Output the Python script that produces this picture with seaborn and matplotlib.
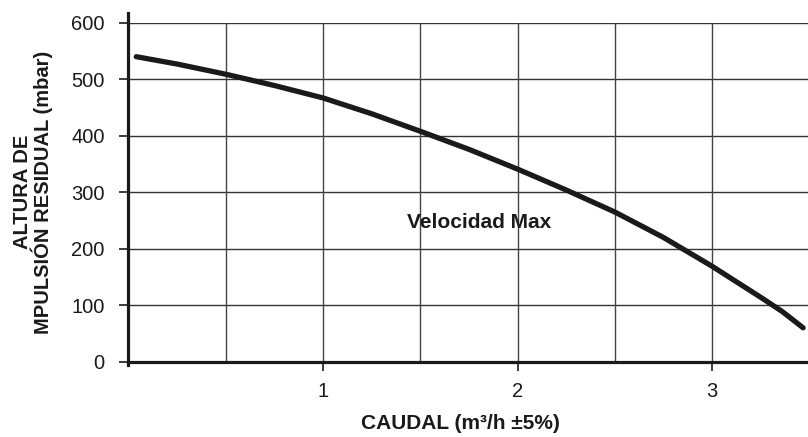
import matplotlib
matplotlib.use("Agg")
import matplotlib.pyplot as plt
import seaborn as sns
import pandas as pd

# Data
caudal = [0.04, 0.25, 0.5, 0.75, 1.0, 1.25, 1.5, 1.75, 2.0, 2.25, 2.5, 2.75, 3.0, 3.25, 3.36, 3.468]
altura = [540, 527, 509, 489, 467, 439, 408, 376, 341, 304, 265, 220, 169, 114, 89, 60]
x_ticks = [1, 2, 3]
x_tick_labels = ["1", "2", "3"]
y_ticks = [0, 100, 200, 300, 400, 500, 600]
y_tick_labels = ["0", "100", "200", "300", "400", "500", "600"]
x_grid = [0.5, 1.0, 1.5, 2.0, 2.5, 3.0]
curve_label = "Velocidad Max"
x_label = "CAUDAL (m³/h ±5%)"
y_label = "ALTURA DE\nMPULSIÓN RESIDUAL (mbar)"

sns.set_style("white")
plt.rcParams["font.family"] = ["Liberation Sans", "DejaVu Sans"]

fig = plt.figure(figsize=(8.08, 4.37), dpi=100)
ax = fig.add_axes([0.159, 0.1723, 0.841, 0.7755])

df = pd.DataFrame({"caudal": caudal, "altura": altura})

# grid lines (drawn below the curve)
for gy in y_ticks[1:]:
    ax.axhline(gy, color="#333333", lw=1.0, zorder=1)
ax.vlines(x_grid, 0, 600, color="#444444", lw=1.0, zorder=1)

sns.lineplot(data=df, x="caudal", y="altura", ax=ax, color="#1a1a1a",
             lw=3.8, solid_capstyle="round", solid_joinstyle="round",
             zorder=3, estimator=None, sort=True)

ax.set_xlim(0, 3.493)
ax.set_ylim(0, 600)

ax.set_xticks(x_ticks)
ax.set_xticklabels(x_tick_labels)
ax.set_yticks(y_ticks)
ax.set_yticklabels(y_tick_labels)
ax.tick_params(axis="both", which="major", labelsize=14.5, colors="#1a1a1a",
               length=6.5, width=1.2, direction="out")
ax.tick_params(axis="x", pad=8)
ax.tick_params(axis="y", pad=10.5)
ax.xaxis.set_ticks_position("bottom")
ax.yaxis.set_ticks_position("left")

for s in ["top", "right"]:
    ax.spines[s].set_visible(False)
for s in ["left", "bottom"]:
    ax.spines[s].set_color("#1a1a1a")
    ax.spines[s].set_linewidth(2.3)
ax.spines["left"].set_bounds(-5, 617)

ax.set_xlabel("")
ax.set_ylabel("")

ax.text(1.80, 246, curve_label, ha="center", va="center", fontsize=15,
        fontweight="bold", color="#1a1a1a", zorder=4)

fig.text(460 / 808, 0.03, x_label, ha="center", va="center", fontsize=15,
         fontweight="bold", color="#1a1a1a")
fig.text(33 / 808, (437 - 192) / 437, y_label, ha="center", va="center",
         rotation=90, fontsize=14.5, fontweight="bold", color="#1a1a1a",
         multialignment="center", linespacing=0.9)

fig.savefig("out.png", dpi=100)
